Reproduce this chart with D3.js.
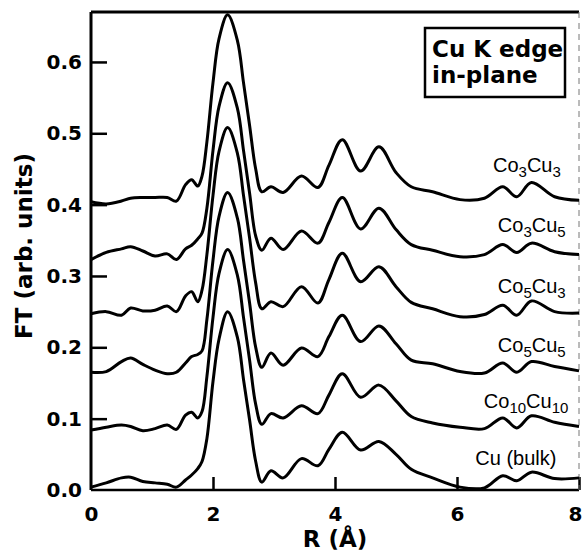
<!DOCTYPE html>
<html>
<head>
<meta charset="utf-8">
<script src="https://cdnjs.cloudflare.com/ajax/libs/d3/7.8.5/d3.min.js"></script>
<style>
  body { margin: 0; background: #fff; }
  svg { display: block; }
  .tick text { font-family: "DejaVu Sans", sans-serif; font-weight: bold; font-size: 20px; fill: #000; }
  .tick line { stroke: #000; stroke-width: 2.5px; }
  .title { font-family: "DejaVu Sans", sans-serif; font-weight: bold; font-size: 23px; }
  .curve { fill: none; stroke: #000; stroke-width: 3px; stroke-linejoin: round; }
  .label { font-family: "Liberation Sans", Arial, sans-serif; font-size: 20px; }
</style>
</head>
<body>
<svg></svg>
<script>
// R grid (Å) shared by all spectra
var rValues = [0, 0.25, 0.5, 0.65, 0.85, 1.05, 1.25, 1.4, 1.55, 1.65, 1.75, 1.82, 1.9, 2.0, 2.1, 2.24,
               2.4, 2.5, 2.6, 2.7, 2.8, 2.95, 3.15, 3.45, 3.72, 3.9, 4.12, 4.42, 4.72, 5.0, 5.25, 5.6,
               6.05, 6.45, 6.75, 6.98, 7.22, 7.6, 8.0];

// FT magnitudes (arb. units), curves already offset as in the figure
var co3cu3 = [0.404, 0.401, 0.405, 0.409, 0.410, 0.410, 0.410, 0.405, 0.428, 0.435, 0.426, 0.440, 0.488, 0.571, 0.633, 0.666,
              0.630, 0.571, 0.511, 0.450, 0.418, 0.425, 0.417, 0.440, 0.424, 0.455, 0.491, 0.447, 0.481, 0.445, 0.425, 0.418,
              0.407, 0.409, 0.425, 0.411, 0.431, 0.411, 0.406];
var co3cu5 = [0.323, 0.333, 0.338, 0.341, 0.335, 0.328, 0.331, 0.323, 0.338, 0.343, 0.352, 0.360, 0.395, 0.476, 0.538, 0.571,
              0.535, 0.476, 0.416, 0.356, 0.336, 0.353, 0.337, 0.363, 0.346, 0.375, 0.410, 0.366, 0.395, 0.365, 0.344, 0.336,
              0.327, 0.330, 0.344, 0.333, 0.346, 0.334, 0.330];
var co5cu3 = [0.247, 0.250, 0.245, 0.255, 0.251, 0.252, 0.258, 0.250, 0.272, 0.278, 0.264, 0.280, 0.330, 0.413, 0.475, 0.508,
              0.472, 0.413, 0.353, 0.290, 0.254, 0.264, 0.257, 0.285, 0.262, 0.295, 0.332, 0.292, 0.313, 0.285, 0.263, 0.254,
              0.243, 0.246, 0.259, 0.245, 0.265, 0.250, 0.248];
var co5cu5 = [0.165, 0.166, 0.180, 0.185, 0.176, 0.168, 0.163, 0.165, 0.178, 0.187, 0.190, 0.195, 0.239, 0.322, 0.384, 0.417,
              0.381, 0.322, 0.262, 0.200, 0.172, 0.192, 0.175, 0.199, 0.187, 0.215, 0.245, 0.208, 0.230, 0.205, 0.182, 0.177,
              0.166, 0.164, 0.178, 0.165, 0.180, 0.173, 0.167];
var co10cu10 = [0.084, 0.088, 0.091, 0.089, 0.083, 0.086, 0.091, 0.085, 0.105, 0.109, 0.101, 0.110, 0.159, 0.242, 0.304, 0.337,
                0.301, 0.242, 0.182, 0.120, 0.092, 0.107, 0.101, 0.118, 0.107, 0.133, 0.163, 0.130, 0.147, 0.125, 0.103, 0.094,
                0.088, 0.086, 0.101, 0.087, 0.104, 0.095, 0.089];
var cuBulk = [0.004, 0.010, 0.017, 0.018, 0.012, 0.010, 0.008, 0.004, 0.014, 0.021, 0.030, 0.040, 0.072, 0.152, 0.212, 0.250,
              0.214, 0.155, 0.098, 0.040, 0.011, 0.027, 0.017, 0.044, 0.034, 0.057, 0.081, 0.056, 0.068, 0.050, 0.029, 0.017,
              0.004, 0.003, 0.020, 0.013, 0.025, 0.016, 0.017];

var series = [co3cu3, co3cu5, co5cu3, co5cu5, co10cu10, cuBulk];
var seriesNames = ["Co3Cu3", "Co3Cu5", "Co5Cu3", "Co5Cu5", "Co10Cu10", "Cu (bulk)"];
// where each name sits: R of its left edge and FT of its baseline
var labelR = [6.59, 6.67, 6.67, 6.67, 6.44, 6.30];
var labelFT = [0.446, 0.362, 0.276, 0.193, 0.115, 0.035];

var xTicks = [0, 2, 4, 6, 8];
var yTicks = [0.0, 0.1, 0.2, 0.3, 0.4, 0.5, 0.6];

var margin = {top: 12, right: 3, bottom: 62, left: 91},
    width = 582 - margin.left - margin.right,
    height = 552 - margin.top - margin.bottom;

var x = d3.scaleLinear().domain([0, 8]).range([0, width]);
var y = d3.scaleLinear().domain([0, 0.67]).range([height, 0]);

var svg = d3.select("svg")
    .attr("width", 582)
    .attr("height", 552)
    .append("g")
    .attr("transform", "translate(" + margin.left + "," + margin.top + ")");

// Add the X Axis (ticks point inward)
var xAxis = svg.append("g")
    .attr("transform", "translate(0," + height + ")")
    .call(d3.axisBottom(x).tickValues(xTicks).tickSize(-13).tickPadding(17).tickFormat(d3.format("d")));
xAxis.select(".domain").remove();
xAxis.selectAll(".tick").filter(function(d) { return d === 0; }).select("line").remove();
// last label sits against the edge of the page
xAxis.selectAll(".tick").filter(function(d) { return d === 8; }).select("text").attr("dx", -4);

// Add the Y Axis
var yAxis = svg.append("g")
    .call(d3.axisLeft(y).tickValues(yTicks).tickSize(-16).tickPadding(9).tickFormat(d3.format(".1f")));
yAxis.select(".domain").remove();
yAxis.selectAll(".tick").filter(function(d) { return d === 0; }).select("line").remove();

// Frame
svg.append("line").attr("x1", 0).attr("x2", 0).attr("y1", 0).attr("y2", height)
    .style("stroke", "#000").style("stroke-width", 3);
svg.append("line").attr("x1", 0).attr("x2", width).attr("y1", height).attr("y2", height)
    .style("stroke", "#000").style("stroke-width", 2.5);
svg.append("line").attr("x1", 0).attr("x2", width).attr("y1", 0).attr("y2", 0)
    .style("stroke", "#000").style("stroke-width", 3);
svg.append("line").attr("x1", width).attr("x2", width).attr("y1", 0).attr("y2", height)
    .style("stroke", "#777").style("stroke-width", 1).style("stroke-dasharray", "6,5");

// Axis labels
svg.append("text")
    .attr("class", "title")
    .attr("x", x(4))
    .attr("y", height + 57)
    .style("text-anchor", "middle")
    .text("R (Å)");

svg.append("text")
    .attr("class", "title")
    .attr("transform", "rotate(-90)")
    .attr("x", 0 - (height / 2) + 5)
    .attr("y", 0 - margin.left + 32)
    .style("text-anchor", "middle")
    .text("FT (arb. units)");

// Add the spectra
var line = d3.line()
    .x(function(d, i) { return x(rValues[i]); })
    .y(function(d) { return y(d); })
    .curve(d3.curveCatmullRom.alpha(0.5));

svg.selectAll(".curve")
    .data(series)
    .enter().append("path")
    .attr("class", "curve")
    .attr("d", line);

// Curve names with subscripts
seriesNames.forEach(function(name, i) {
  var t = svg.append("text")
      .attr("class", "label")
      .attr("x", x(labelR[i]))
      .attr("y", y(labelFT[i]));
  var parts = name.match(/(\d+|[^\d]+)/g);
  var low = false;
  parts.forEach(function(p) {
    var isNum = /^\d+$/.test(p);
    var ts = t.append("tspan").text(p);
    if (isNum && !low) { ts.attr("dy", 5); low = true; }
    else if (!isNum && low) { ts.attr("dy", -5); low = false; }
    if (isNum) ts.style("font-size", "15px");
  });
});

// Edge box
var box = svg.append("g").attr("transform", "translate(334,16)");
box.append("rect")
    .attr("width", 140)
    .attr("height", 69)
    .style("fill", "#fff")
    .style("stroke", "#000")
    .style("stroke-width", 2.5);
box.append("text").attr("class", "title").attr("x", 7).attr("y", 29).text("Cu K edge");
box.append("text").attr("class", "title").attr("x", 7).attr("y", 55).text("in-plane");
</script>
</body>
</html>
